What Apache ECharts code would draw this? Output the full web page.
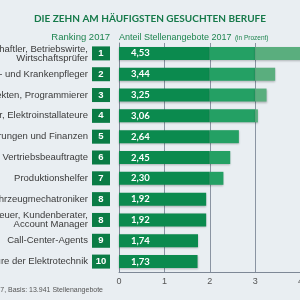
<!DOCTYPE html>
<html>
<head>
<meta charset="utf-8">
<script src="https://cdn.jsdelivr.net/npm/echarts@6/dist/echarts.min.js"></script>
<style>
  html, body { margin: 0; padding: 0; background: #e9eef2; }
  #chart { width: 300px; height: 300px; }
</style>
</head>
<body>
<div id="chart"></div>
<script>
// Berufe (von oben nach unten)
let jobs = [
  'Wirtschaftswissenschaftler, Betriebswirte,\nWirtschaftsprüfer',
  'Gesundheits- und Krankenpfleger',
  'Softwarearchitekten, Programmierer',
  'Elektriker, Elektroinstallateure',
  'Versicherungen und Finanzen',
  'Vertriebspartner, Vertriebsbeauftragte',
  'Produktionshelfer',
  'Kraftfahrzeugmechatroniker',
  'Kundenbetreuer, Kundenberater,\nAccount Manager',
  'Call-Center-Agents',
  'Ingenieure der Elektrotechnik'
];
let ranks = ['1', '2', '3', '4', '5', '6', '7', '8', '8', '9', '10'];
// Anteil Stellenangebote 2017 in Prozent
let shares = [4.53, 3.44, 3.25, 3.06, 2.64, 2.45, 2.30, 1.92, 1.92, 1.74, 1.73];

// Balken in drei Abschnitte teilen (0-2, 2-3, ab 3), wie im Original heller werdend
let seg1 = shares.map(function (v) { return Math.min(v, 2); });
let seg2 = shares.map(function (v) { return Math.max(Math.min(v - 2, 1), 0); });
let seg3 = shares.map(function (v) { return Math.max(v - 3, 0); });

let fontFam = '"Liberation Sans Narrow", "Liberation Sans", sans-serif';

let barShadow = {
  shadowColor: 'rgba(0,0,0,0.25)',
  shadowBlur: 2,
  shadowOffsetY: 1
};

let chart = echarts.init(document.getElementById('chart'));

let option = {
  backgroundColor: '#e9eef2',
  animation: false,
  title: {
    text: 'DIE ZEHN AM HÄUFIGSTEN GESUCHTEN BERUFE',
    left: 'center',
    top: 9,
    textStyle: {
      color: '#167a4a',
      fontFamily: 'Lato, sans-serif',
      fontWeight: 'bold',
      fontSize: 10
    }
  },
  graphic: [
    {
      type: 'text', right: 190, top: 32,
      style: { text: 'Ranking 2017', fill: '#1f8550', font: '500 9.5px ' + fontFam, textAlign: 'right' }
    },
    {
      type: 'text', left: 119, top: 32,
      style: {
        text: '{a|Anteil Stellenangebote 2017} {b|(in Prozent)}',
        rich: {
          a: { fill: '#1f8550', fontSize: 9, fontFamily: fontFam },
          b: { fill: '#1f8550', fontSize: 6.5, fontFamily: fontFam }
        }
      }
    },
    {
      type: 'text', right: 197, top: 287,
      style: { text: 'Quelle: Jobmonitor 2017, Basis: 13.941 Stellenangebote', fill: '#555', font: '7px ' + fontFam }
    }
  ],
  grid: {
    left: 119,
    right: -46,
    top: 43,
    bottom: 28,
    outerBoundsMode: 'none',
    containLabel: false,
    show: false
  },
  xAxis: {
    type: 'value',
    min: 0,
    max: 5,
    interval: 1,
    axisLine: { show: true, lineStyle: { color: '#7e8896', width: 1 } },
    axisTick: { show: false },
    axisLabel: { color: '#555', fontSize: 9, fontFamily: fontFam, margin: 5 },
    splitLine: { show: true, lineStyle: { color: '#8a94a2', width: 1 } }
  },
  yAxis: [
    {
      type: 'category',
      inverse: true,
      data: jobs,
      axisLine: { show: true, lineStyle: { color: '#7e8896' } },
      axisTick: { show: false },
      axisLabel: {
        margin: 9,
        formatter: function (val, idx) { return '{r|' + ranks[idx] + '}'; },
        rich: {
          r: {
            backgroundColor: '#0a7c45',
            color: '#fff',
            fontWeight: 'bold',
            fontSize: 9.5,
            fontFamily: fontFam,
            width: 18,
            height: 14,
            align: 'center',
            verticalAlign: 'middle'
          }
        }
      }
    },
    {
      type: 'category',
      inverse: true,
      position: 'left',
      data: jobs,
      axisLine: { show: false },
      axisTick: { show: false },
      axisLabel: {
        margin: 31,
        color: '#3a3a3a',
        fontSize: 9.5,
        lineHeight: 9,
        fontFamily: fontFam,
        align: 'right'
      }
    }
  ],
  series: [
    {
      name: 'seg1',
      type: 'bar',
      stack: 'all',
      barWidth: 13,
      data: seg1,
      itemStyle: Object.assign({ color: '#0b8a4e' }, barShadow),
      label: {
        show: true,
        position: 'insideLeft',
        offset: [7, 0],
        color: '#fff',
        fontWeight: 'bold',
        fontSize: 9.5,
        fontFamily: 'Lato, sans-serif',
        formatter: function (p) { return shares[p.dataIndex].toFixed(2).replace('.', ','); }
      }
    },
    {
      name: 'seg2',
      type: 'bar',
      stack: 'all',
      barWidth: 13,
      data: seg2,
      itemStyle: Object.assign({ color: '#24a064' }, barShadow)
    },
    {
      name: 'seg3',
      type: 'bar',
      stack: 'all',
      barWidth: 13,
      data: seg3,
      itemStyle: Object.assign({ color: '#5aae7e' }, barShadow)
    }
  ]
};

chart.setOption(option);
</script>
</body>
</html>
